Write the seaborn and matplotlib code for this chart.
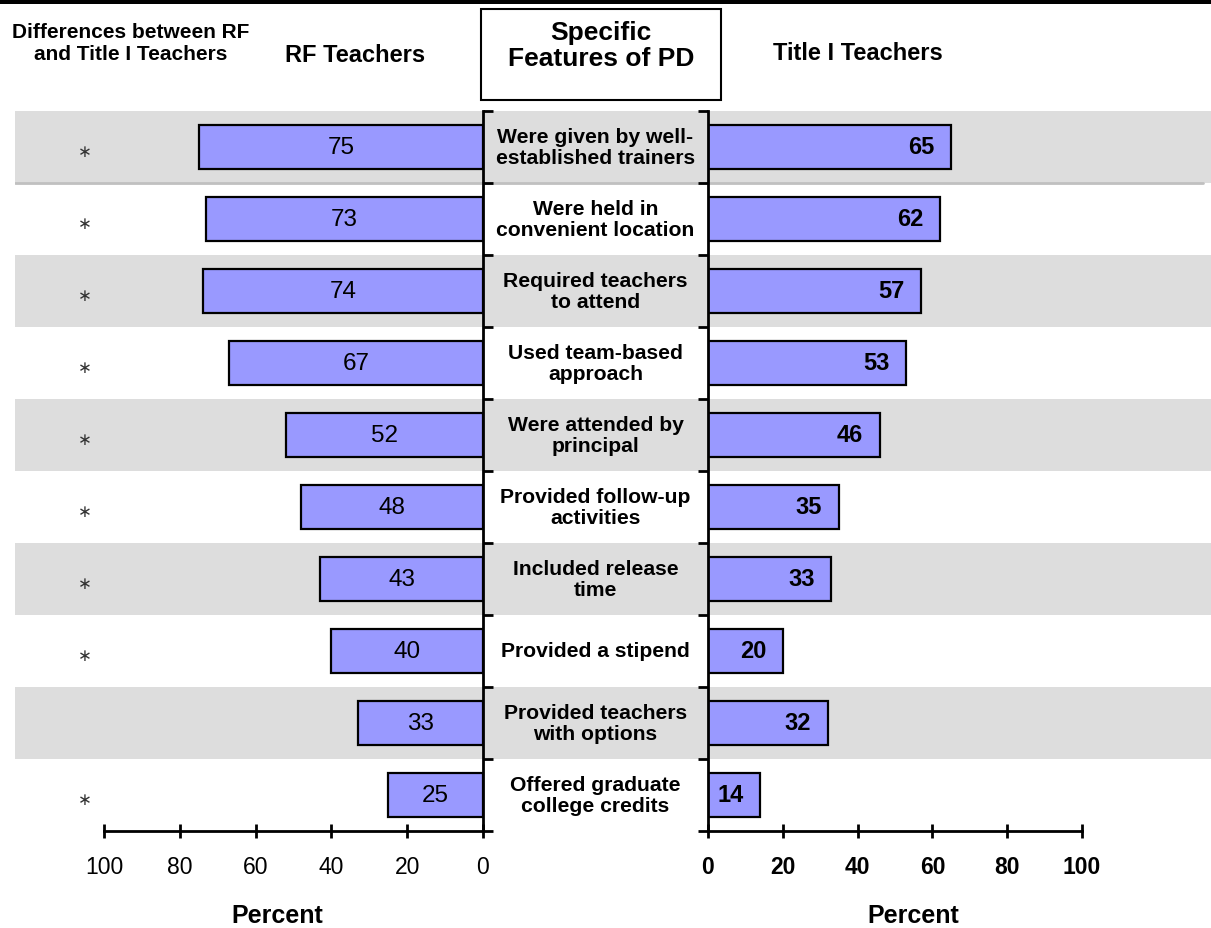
import matplotlib
matplotlib.use("Agg")
import matplotlib.pyplot as plt
import matplotlib.transforms as mtransforms
from matplotlib.patches import Rectangle
import seaborn as sns
import pandas as pd

# data
features = [
    "Were given by well-\nestablished trainers",
    "Were held in\nconvenient location",
    "Required teachers\nto attend",
    "Used team-based\napproach",
    "Were attended by\nprincipal",
    "Provided follow-up\nactivities",
    "Included release\ntime",
    "Provided a stipend",
    "Provided teachers\nwith options",
    "Offered graduate\ncollege credits",
]
rf_pct = [75, 73, 74, 67, 52, 48, 43, 40, 33, 25]
title1_pct = [65, 62, 57, 53, 46, 35, 33, 20, 32, 14]
significant = [True, True, True, True, True, True, True, True, False, True]
ticks = [0, 20, 40, 60, 80, 100]

df = pd.DataFrame({"feature": features, "rf": rf_pct, "title1": title1_pct})

sns.set_style("white")
plt.rcParams["font.family"] = ["Liberation Sans", "DejaVu Sans"]
plt.rcParams["text.color"] = "black"
plt.rcParams["axes.labelcolor"] = "black"

bar_color = "#9999FF"
band_color = "#DDDDDD"

fig = plt.figure(figsize=(12.11, 9.29), dpi=100)
W, H = 1211.0, 929.0
bottom, top = 1 - 832 / H, 1 - 112 / H

# background with alternating grey bands
axbg = fig.add_axes([15 / W, bottom, 1 - 15 / W, top - bottom])
axbg.set_xlim(0, 1)
axbg.set_ylim(len(features) - 0.5, -0.5)
for i in range(0, len(features), 2):
    axbg.axhspan(i - 0.5, i + 0.5, color=band_color, lw=0)
axbg.axhline(0.5, xmin=0, xmax=0.993, color="#C0C0C0", lw=2)
axbg.axis("off")

axL = fig.add_axes([104 / W, bottom, 379 / W, top - bottom])
axR = fig.add_axes([708 / W, bottom, 374 / W, top - bottom])

sns.barplot(data=df, x="rf", y="feature", ax=axL, color=bar_color,
            edgecolor="black", linewidth=1.6, width=0.6, saturation=1)
sns.barplot(data=df, x="title1", y="feature", ax=axR, color=bar_color,
            edgecolor="black", linewidth=1.6, width=0.6, saturation=1)

boundaries = [i - 0.5 for i in range(len(features) + 1)]
for ax in (axL, axR):
    ax.set_facecolor("none")
    ax.set_ylim(len(features) - 0.5, -0.5)
    ax.set_yticks(boundaries)
    ax.set_yticklabels([])
    ax.set_ylabel("")
    ax.set_xticks(ticks)
    ax.tick_params(axis="x", bottom=True, direction="inout", length=10,
                   width=2, pad=12, labelsize=16.5, colors="black")
    ax.spines["top"].set_visible(False)
    for s in ax.spines.values():
        s.set_linewidth(2)
        s.set_color("black")

axL.set_xlim(100, 0)
axL.spines["left"].set_visible(False)
axL.yaxis.tick_right()
axL.tick_params(axis="y", right=True, left=False, direction="out",
                length=7, width=2, colors="black")
axR.set_xlim(0, 100)
axR.spines["right"].set_visible(False)
axR.tick_params(axis="y", left=True, right=False, direction="out",
                length=7, width=2, colors="black")
for lbl in axR.get_xticklabels():
    lbl.set_fontweight("bold")

axL.set_xlabel("Percent", fontsize=18, fontweight="bold")
axR.set_xlabel("Percent", fontsize=18, fontweight="bold")
axL.xaxis.set_label_coords(0.456, -0.1)
axR.xaxis.set_label_coords(0.548, -0.1)

# value labels
axL.bar_label(axL.containers[0], labels=[str(v) for v in rf_pct],
              label_type="center", fontsize=17.5)
for p, v in zip(axR.containers[0].patches, title1_pct):
    axR.annotate(str(v), (p.get_width(), p.get_y() + p.get_height() / 2),
                 xytext=(-12, 0), textcoords="offset points",
                 ha="right", va="center", fontsize=17, fontweight="bold")

# center labels and significance stars
tr = mtransforms.blended_transform_factory(fig.transFigure, axL.transData)
for i, (f, sig) in enumerate(zip(features, significant)):
    fig.text(595.5 / W, i, f, transform=tr, ha="center", va="center",
             fontsize=15.2, fontweight="bold", linespacing=1.1)
    if sig:
        fig.text(85 / W, i + 0.06, "\u2217", transform=tr, ha="center",
                 va="center", fontsize=12, family="DejaVu Sans", color="#333333")

# headers
fig.text(131 / W, 1 - 43 / H, "Differences between RF\nand Title I Teachers",
         ha="center", va="center", fontsize=15, fontweight="bold")
fig.text(355 / W, 1 - 55 / H, "RF Teachers", ha="center", va="center",
         fontsize=17, fontweight="bold")
fig.text(858 / W, 1 - 53 / H, "Title I Teachers", ha="center", va="center",
         fontsize=17, fontweight="bold")
fig.add_artist(Rectangle((481 / W, 1 - 101 / H), 240 / W, 91 / H,
                         transform=fig.transFigure, fill=False,
                         edgecolor="black", lw=1.5))
fig.text(601 / W, 1 - 46 / H, "Specific\nFeatures of PD", ha="center",
         va="center", fontsize=19, fontweight="bold", linespacing=1.1)
fig.add_artist(Rectangle((0, 1 - 5 / H), 1, 5 / H, transform=fig.transFigure,
                         color="black", lw=0))

fig.savefig("out.png", dpi=100)
